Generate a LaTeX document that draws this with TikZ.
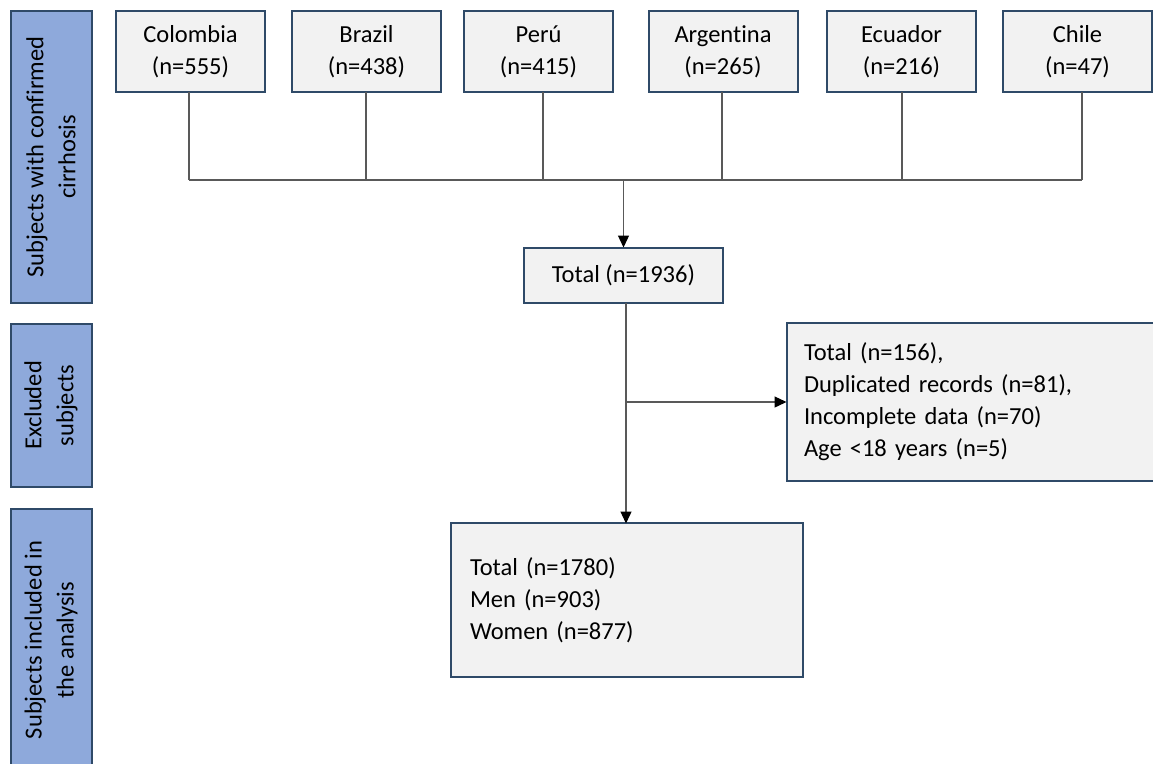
\documentclass[tikz,border=0pt]{standalone}
\usepackage{fontspec}
\setmainfont[Ligatures={NoCommon}]{Carlito}
\usetikzlibrary{arrows.meta}
\definecolor{bluefill}{HTML}{8EA9DB}
\definecolor{boxborder}{HTML}{2F4A68}
\definecolor{greyfill}{HTML}{F2F2F2}
\definecolor{linegrey}{HTML}{595959}
\begin{document}
\begin{tikzpicture}[x=1pt,y=-1pt,
  every node/.style={font=\fontsize{24.5}{32}\selectfont},
  sidebox/.style={draw=boxborder, line width=2pt, fill=bluefill, rotate=90, align=center, inner sep=0pt},
  country/.style={draw=boxborder, line width=2pt, fill=greyfill, align=center, minimum width=149pt, minimum height=81pt, inner sep=0pt},
  greybox/.style={draw=boxborder, line width=2pt, fill=greyfill, inner sep=0pt},
  conn/.style={draw=linegrey, line width=1.3pt},
  arr/.style={conn, -{Triangle[length=12pt,width=11pt,color=black]}, shorten >=-0.5pt}
]
\useasboundingbox (0,0) rectangle (1153,763);
\clip (0,0) rectangle (1153,763);

% side boxes
\node[sidebox, minimum width=292pt, minimum height=81pt] (s1) at (51,157) {Subjects with confirmed\\cirrhosis};
\node[sidebox, minimum width=163pt, minimum height=81pt] (s2) at (51,405.5) {Excluded\\subjects};
\node[sidebox, minimum width=262pt, minimum height=81pt] (s3) at (51,640) {Subjects included in\\the analysis};

% countries
\node[country] (col) at (190.5,51.5) {Colombia\\(n=555)};
\node[country] (bra) at (366.5,51.5) {Brazil\\(n=438)};
\node[country] (per) at (538.5,51.5) {Perú\\(n=415)};
\node[country] (arg) at (723,51.5) {Argentina\\(n=265)};
\node[country] (ecu) at (901.5,51.5) {Ecuador\\(n=216)};
\node[country] (chi) at (1077.5,51.5) {Chile\\(n=47)};

% total
\node[greybox, minimum width=199pt, minimum height=55pt] (tot) at (623.5,275.5) {Total (n=1936)};

% excluded
\node[greybox, anchor=north west, minimum height=158pt, text width=354pt, inner xsep=17pt, align=left] (exc) at (786,322) {Total (n=156),\\Duplicated records (n=81),\\Incomplete data (n=70)\\Age <18 years (n=5)};

% included
\node[greybox, minimum width=352pt, minimum height=154pt, text width=314pt, inner xsep=19pt, align=left] (inc) at (627,600) {Total (n=1780)\\Men (n=903)\\Women (n=877)};

% connectors
\coordinate (jl) at (189,180);
\coordinate (jr) at (1082,180);
\coordinate (jm) at (623.5,180);
\coordinate (br) at (626,402);
\draw[conn] (jl) -- (jr);
\foreach \n/\xx in {col/189, bra/366, per/543, arg/722, ecu/902, chi/1082}
  \draw[conn] (\xx,92) -- (\xx,180);
\draw[arr] (jm) -- (tot.north);
\draw[arr] (626,303) -- (626,523);
\draw[arr] (br) -- (exc.west);
\end{tikzpicture}
\end{document}
